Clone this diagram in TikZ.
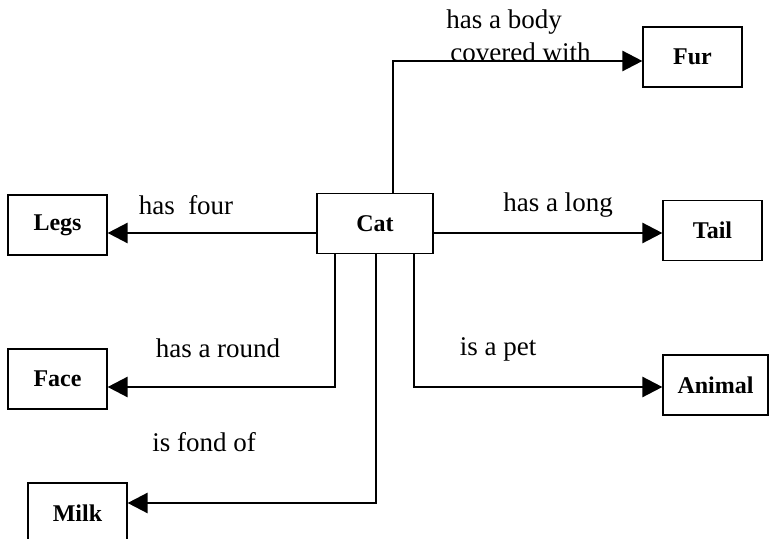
\documentclass[tikz,border=0pt]{standalone}
\usepackage{fontspec}
\setmainfont{Liberation Serif}
\usetikzlibrary{arrows.meta, positioning}
\tikzset{concept/.style={draw, line width=0.6pt, minimum width=49.5pt, minimum height=30pt, inner sep=0pt, font=\fontsize{12}{14}\selectfont\bfseries}}
\tikzset{link/.style={line width=1.3pt, -{Triangle[length=10pt, width=10pt]}}}
\tikzset{linklabel/.style={font=\fontsize{13.5}{16.5}\selectfont, inner sep=0pt}}

\begin{document}
\begin{tikzpicture}[x=0.5pt, y=-0.5pt]
\useasboundingbox (0,0) rectangle (771,539);
\node[concept, minimum width=58pt] (cat) at (375,223.5) {Cat};
\node[concept] (legs) at (57.5,225) {Legs};
\node[concept] (face) at (57.5,379) {Face};
\node[concept] (milk) at (77.5,513) {Milk};
\node[concept] (fur) at (692.5,57) {Fur};
\node[concept] (tail) at (712.5,230.5) {Tail};
\node[concept, minimum width=52.5pt] (animal) at (715.5,385) {Animal};
\draw[link] (cat.west |- 0,233) -- (legs.east |- 0,233);
\draw[link] (cat.east |- 0,233) -- (tail.west |- 0,233);
\draw[link] (cat.north -| 393,0) |- (fur.west |- 0,61);
\draw[link] (cat.south -| 335,0) |- (face.east |- 0,387);
\draw[link] (cat.south -| 376,0) |- (milk.east |- 0,503);
\draw[link] (cat.south -| 414,0) |- (animal.west |- 0,387);
\node[linklabel] (lfour) at (186,205) {has~~four};
\node[linklabel] (llong) at (558,205) {has a long};
\node[linklabel] (lround) at (218,348) {has a round};
\node[linklabel] (lpet) at (498,349) {is a pet};
\node[linklabel] (lfond) at (204,442) {is fond of};
\node[linklabel, align=left, anchor=west] (lbody) at (446,36) {has a body\\\hspace{2pt}covered with};
\end{tikzpicture}
\end{document}
